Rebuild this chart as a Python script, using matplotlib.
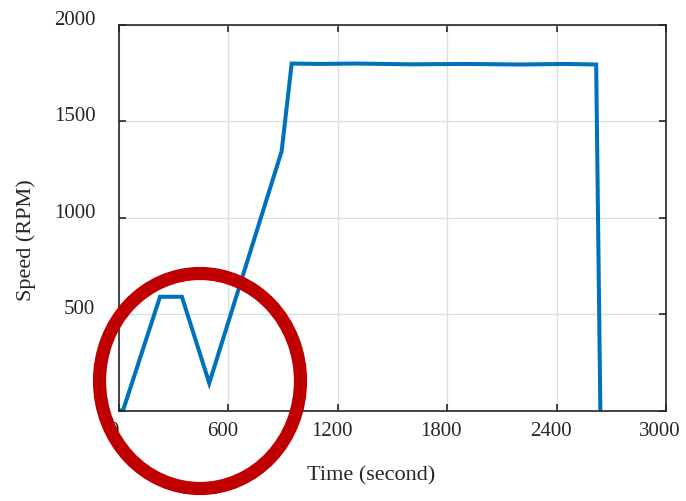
import matplotlib.pyplot as plt
import matplotlib.transforms as mtransforms
from matplotlib.patches import Ellipse

plt.rcParams['font.family'] = ['Liberation Serif', 'DejaVu Serif']

# speed profile
time_s = [0, 22, 225, 345, 495, 892, 947, 1100, 1300, 1600, 1900, 2200, 2450, 2617, 2640]
speed_rpm = [0, 0, 590, 590, 142, 1345, 1800, 1798, 1800, 1796, 1798, 1795, 1798, 1795, 0]

x_ticks = [0, 600, 1200, 1800, 2400, 3000]
y_ticks = [0, 500, 1000, 1500, 2000]
y_tick_labels = ['', '500', '1000', '1500', '2000']

fig = plt.figure(figsize=(6.86, 5.01), dpi=100)
ax = fig.add_axes([119 / 686, 90.5 / 501, 547 / 686, 385.5 / 501])

ax.plot(time_s, speed_rpm, color='#0072BD', linewidth=2.9, solid_joinstyle='miter')

ax.set_xlim(0, 3000)
ax.set_ylim(0, 2000)
ax.set_xticks(x_ticks)
ax.set_yticks(y_ticks)
ax.set_yticklabels(y_tick_labels)

ax.grid(True, color='#dfdfdf', linewidth=1.0)
ax.set_axisbelow(True)
for s in ax.spines.values():
    s.set_color('#262626')
    s.set_linewidth(1.2)
ax.tick_params(direction='in', length=5, width=1.2, color='#262626',
               top=True, right=True, labelsize=15, labelcolor='#262626')
ax.tick_params(axis='y', pad=17)
ax.tick_params(axis='x', pad=8)

# the exported text sits a little up/left of the ticks, as in the original
off_y = mtransforms.ScaledTranslation(0, 7 / 100, fig.dpi_scale_trans)
for lab in ax.get_yticklabels():
    lab.set_transform(lab.get_transform() + off_y)
off_x = mtransforms.ScaledTranslation(-6 / 100, 0, fig.dpi_scale_trans)
for lab in ax.get_xticklabels():
    lab.set_transform(lab.get_transform() + off_x)

ax.set_xlabel('Time (second)', fontsize=16, color='#262626')
ax.set_ylabel('Speed (RPM)', fontsize=16, color='#262626')
ax.xaxis.set_label_coords(0.461, -0.145)
ax.yaxis.set_label_coords(-0.152, 0.441)

# red circle highlighting the start-up part
circ = Ellipse((200, 501 - 381), 201, 215, transform=None, fill=False,
               edgecolor='#C00000', linewidth=9.5, clip_on=False, zorder=10)
fig.add_artist(circ)

fig.savefig('out.png', dpi=100)
